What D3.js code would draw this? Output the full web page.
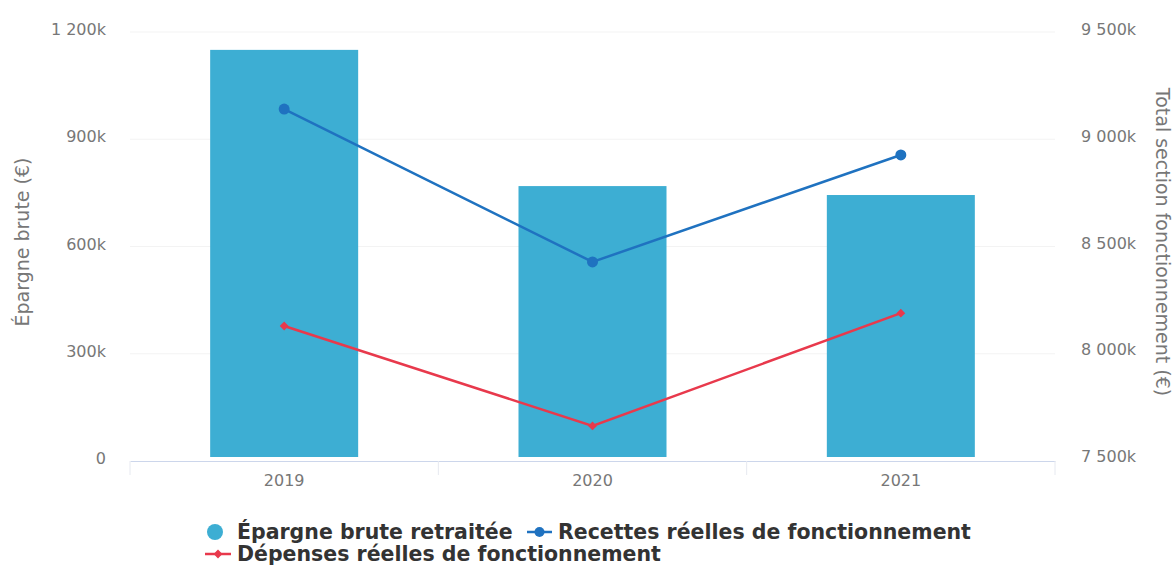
<!DOCTYPE html>
<html>
<head>
<meta charset="utf-8">
<script src="https://cdn.jsdelivr.net/npm/d3@7"></script>
<style>
  body { margin: 0; background: #fff; }
  svg { font-family: "DejaVu Sans", sans-serif; }
</style>
</head>
<body>
<div id="chart"></div>
<script>
var width = 1176;
var height = 565;

// data (values in k€)
var years = ["2019", "2020", "2021"];
var epargne = [1150, 769, 744];
var recettes = [9139, 8423, 8924];
var depenses = [8123, 7655, 8183];

var leftTicks = [0, 300, 600, 900, 1200];
var rightTicks = [7500, 8000, 8500, 9000, 9500];

var plotLeft = 130, plotRight = 1055, plotTop = 32, plotBottom = 461;

function fmt(v) {
    // thousands separated by a space, "k" suffix
    return String(v).replace(/\B(?=(\d{3})+(?!\d))/g, " ") + "k";
}

var svg = d3.select("#chart")
    .append("svg")
    .attr("width", width)
    .attr("height", height);

var x = d3.scaleBand().domain(years).range([plotLeft, plotRight]);
var yL = d3.scaleLinear().domain([0, 1200]).range([plotBottom, plotTop]);
var yR = d3.scaleLinear().domain([7500, 9500]).range([plotBottom - 2, plotTop]);

// faint grid
svg.append("g")
    .selectAll("line")
    .data(leftTicks.slice(1))
    .enter()
    .append("line")
    .attr("x1", plotLeft).attr("x2", plotRight)
    .attr("y1", function (d) { return yL(d); })
    .attr("y2", function (d) { return yL(d); })
    .style("stroke", "#f3f3f3");

// left axis labels
svg.append("g")
    .selectAll("text")
    .data(leftTicks)
    .enter()
    .append("text")
    .attr("x", 106)
    .attr("y", function (d) { return yL(d) + 3; })
    .attr("text-anchor", "end")
    .style("font-size", "16px")
    .style("fill", "#777")
    .text(function (d) { return d === 0 ? "0" : fmt(d); });

// right axis labels
svg.append("g")
    .selectAll("text")
    .data(rightTicks)
    .enter()
    .append("text")
    .attr("x", 1081)
    .attr("y", function (d) { return yR(d) + 3; })
    .style("font-size", "16px")
    .style("fill", "#777")
    .text(function (d) { return fmt(d); });

// axis titles
svg.append("text")
    .attr("transform", "translate(29,242) rotate(-90)")
    .attr("text-anchor", "middle")
    .style("font-size", "19px")
    .style("fill", "#777")
    .text("Épargne brute (€)");

svg.append("text")
    .attr("transform", "translate(1156,242) rotate(90)")
    .attr("text-anchor", "middle")
    .style("font-size", "19px")
    .style("fill", "#777")
    .text("Total section fonctionnement (€)");

// bars
var barW = x.bandwidth() * 0.48;
svg.append("g")
    .selectAll("rect")
    .data(epargne)
    .enter()
    .append("rect")
    .attr("x", function (d, i) { return x(years[i]) + x.bandwidth() / 2 - barW / 2; })
    .attr("y", function (d) { return yL(d); })
    .attr("width", barW)
    .attr("height", function (d) { return plotBottom - 4 - yL(d); })
    .attr("fill", "#3daed3");

// x axis
var xAxis = d3.axisBottom(x).tickSize(0).tickPadding(14);
var gx = svg.append("g")
    .attr("transform", "translate(0," + plotBottom + ")")
    .call(xAxis);
gx.select(".domain").style("stroke", "#ccd6eb");
gx.selectAll("text").style("font-size", "16px").style("fill", "#777")
    .style("font-family", "DejaVu Sans, sans-serif");
gx.selectAll(".sep")
    .data(years.concat(["end"]))
    .enter()
    .append("line")
    .attr("x1", function (d, i) { return plotLeft + i * x.bandwidth(); })
    .attr("x2", function (d, i) { return plotLeft + i * x.bandwidth(); })
    .attr("y1", 0).attr("y2", 14)
    .style("stroke", "#e6e9f0");

// lines
var line = d3.line()
    .x(function (d, i) { return x(years[i]) + x.bandwidth() / 2; })
    .y(function (d) { return yR(d); });

svg.append("path")
    .attr("d", line(recettes))
    .style("stroke", "#1f72c0")
    .style("stroke-width", 2.5)
    .style("fill", "none");

svg.append("path")
    .attr("d", line(depenses))
    .style("stroke", "#e8394c")
    .style("stroke-width", 2.5)
    .style("fill", "none");

svg.append("g")
    .selectAll("circle")
    .data(recettes)
    .enter()
    .append("circle")
    .attr("cx", function (d, i) { return x(years[i]) + x.bandwidth() / 2; })
    .attr("cy", function (d) { return yR(d); })
    .attr("r", 5.5)
    .attr("fill", "#1f72c0");

var diamond = d3.symbol().type(d3.symbolDiamond2).size(50);
svg.append("g")
    .selectAll("path")
    .data(depenses)
    .enter()
    .append("path")
    .attr("d", diamond)
    .attr("transform", function (d, i) {
        return "translate(" + (x(years[i]) + x.bandwidth() / 2) + "," + yR(d) + ")";
    })
    .attr("fill", "#e8394c");

// legend
var lg = svg.append("g").style("font-size", "20.5px").style("font-weight", "bold").style("fill", "#333");

lg.append("circle").attr("cx", 215).attr("cy", 532).attr("r", 8).attr("fill", "#3daed3");
lg.append("text").attr("x", 237).attr("y", 539).text("Épargne brute retraitée");

lg.append("line").attr("x1", 527).attr("x2", 552).attr("y1", 532).attr("y2", 532)
    .style("stroke", "#1f72c0").style("stroke-width", 2.5);
lg.append("circle").attr("cx", 539.5).attr("cy", 532).attr("r", 5).attr("fill", "#1f72c0");
lg.append("text").attr("x", 558).attr("y", 539).text("Recettes réelles de fonctionnement");

lg.append("line").attr("x1", 205).attr("x2", 231).attr("y1", 554).attr("y2", 554)
    .style("stroke", "#e8394c").style("stroke-width", 2.5);
lg.append("path").attr("d", diamond).attr("transform", "translate(218,554)").attr("fill", "#e8394c");
lg.append("text").attr("x", 237).attr("y", 561).text("Dépenses réelles de fonctionnement");
</script>
</body>
</html>
